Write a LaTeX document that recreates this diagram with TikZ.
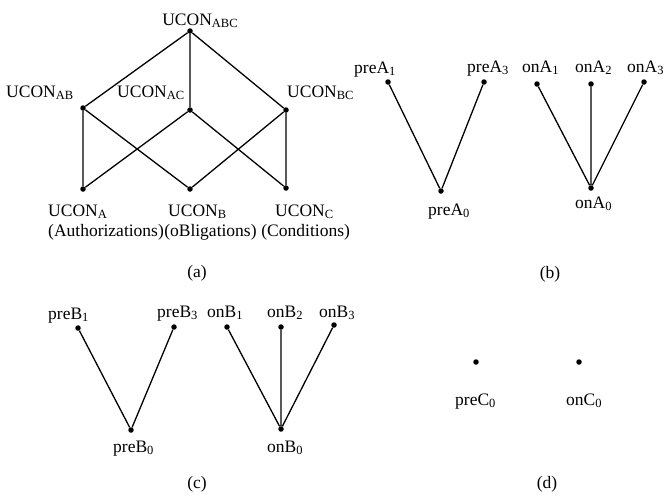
\documentclass[tikz,border=0pt]{standalone}
\usepackage{fontspec}
\setmainfont{Liberation Serif}
\newcommand\lowsub[1]{\raisebox{-2pt}{\fontsize{12.5}{12.5}\selectfont #1}}
\tikzset{
  every picture/.style={x=1pt,y=-1pt},
  vtx/.style={circle,fill=black,inner sep=0pt,minimum size=5.5pt},
  lbl/.style={inner sep=0pt,font=\fontsize{17.5}{20}\selectfont},
  captxt/.style={inner sep=0pt,anchor=base,font=\fontsize{17.5}{20}\selectfont},
  edge/.style={line width=1.3pt},
}
\begin{document}
\begin{tikzpicture}
\useasboundingbox (0,0) rectangle (669,499);

% ---------- (a) UCON lattice ----------
\node[vtx] (abc) at (190,31) {};
\node[vtx] (ab)  at (83,108) {};
\node[vtx] (ac)  at (190,110) {};
\node[vtx] (bc)  at (286,110) {};
\node[vtx] (a)   at (83,189) {};
\node[vtx] (b)   at (190,189) {};
\node[vtx] (c)   at (286,188) {};
\draw[edge] (abc) -- (ab) (abc) -- (ac) (abc) -- (bc)
            (ab) -- (a) (ab) -- (b) (ac) -- (a) (ac) -- (c)
            (bc) -- (b) (bc) -- (c);
\node[lbl,anchor=base] (labc) at (200,25) {UCON\lowsub{ABC}};
\node[lbl,anchor=base west] (lab) at (6,97) {UCON\lowsub{AB}};
\node[lbl,anchor=base west] (lac) at (117,97) {UCON\lowsub{AC}};
\node[lbl,anchor=base west] (lbc) at (287,97) {UCON\lowsub{BC}};
\node[lbl,anchor=base west] (la) at (48,216) {UCON\lowsub{A}};
\node[lbl,anchor=base west] (lb) at (168,216) {UCON\lowsub{B}};
\node[lbl,anchor=base west] (lc) at (275,216) {UCON\lowsub{C}};
\node[lbl,anchor=base west] (authz) at (48,236) {(Authorizations)};
\node[lbl,anchor=base west] (oblig) at (authz.base east) {(oBligations)};
\node[lbl,anchor=base west] (cond) at ([xshift=4.4pt]oblig.base east) {(Conditions)};
\node[captxt] (capa) at (197,277) {(a)};

% ---------- (b) authorization predicates ----------
\node[vtx] (preA1) at (388,82) {};
\node[vtx] (preA3) at (484,82) {};
\node[vtx] (preA0) at (441,191) {};
\node[vtx] (onA1) at (537,84) {};
\node[vtx] (onA2) at (591,84) {};
\node[vtx] (onA3) at (644,82) {};
\node[vtx] (onA0) at (591,188) {};
\draw[edge] (preA1) -- (preA0) -- (preA3);
\draw[edge] (onA1) -- (onA0) (onA2) -- (onA0) (onA3) -- (onA0);
\node[lbl,anchor=base west] (lpreA1) at (354,73) {preA\lowsub{1}};
\node[lbl,anchor=base west] (lpreA3) at (467,72) {preA\lowsub{3}};
\node[lbl,anchor=base west] (lonA1) at (522,72) {onA\lowsub{1}};
\node[lbl,anchor=base west] (lonA2) at (575,72) {onA\lowsub{2}};
\node[lbl,anchor=base west] (lonA3) at (627,72) {onA\lowsub{3}};
\node[lbl,anchor=base west] (lpreA0) at (428,215) {preA\lowsub{0}};
\node[lbl,anchor=base west] (lonA0) at (575,208) {onA\lowsub{0}};
\node[captxt] (capb) at (550,278) {(b)};

% ---------- (c) obligation predicates ----------
\node[vtx] (preB1) at (78,328) {};
\node[vtx] (preB3) at (174,327) {};
\node[vtx] (preB0) at (131,430) {};
\node[vtx] (onB1) at (227,327) {};
\node[vtx] (onB2) at (281,327) {};
\node[vtx] (onB3) at (334,325) {};
\node[vtx] (onB0) at (281,429) {};
\draw[edge] (preB1) -- (preB0) -- (preB3);
\draw[edge] (onB1) -- (onB0) (onB2) -- (onB0) (onB3) -- (onB0);
\node[lbl,anchor=base west] (lpreB1) at (48,319) {preB\lowsub{1}};
\node[lbl,anchor=base west] (lpreB3) at (157,317) {preB\lowsub{3}};
\node[lbl,anchor=base west] (lonB1) at (207,317) {onB\lowsub{1}};
\node[lbl,anchor=base west] (lonB2) at (267,317) {onB\lowsub{2}};
\node[lbl,anchor=base west] (lonB3) at (319,317) {onB\lowsub{3}};
\node[lbl,anchor=base west] (lpreB0) at (113,452) {preB\lowsub{0}};
\node[lbl,anchor=base west] (lonB0) at (267,452) {onB\lowsub{0}};
\node[captxt] (capc) at (197,488) {(c)};

% ---------- (d) condition predicates ----------
\node[vtx] (preC0) at (476,362) {};
\node[vtx] (onC0) at (579,362) {};
\node[lbl,anchor=base west] (lpreC0) at (455,405) {preC\lowsub{0}};
\node[lbl,anchor=base west] (lonC0) at (566,405) {onC\lowsub{0}};
\node[captxt] (capd) at (547,488) {(d)};
\end{tikzpicture}
\end{document}
